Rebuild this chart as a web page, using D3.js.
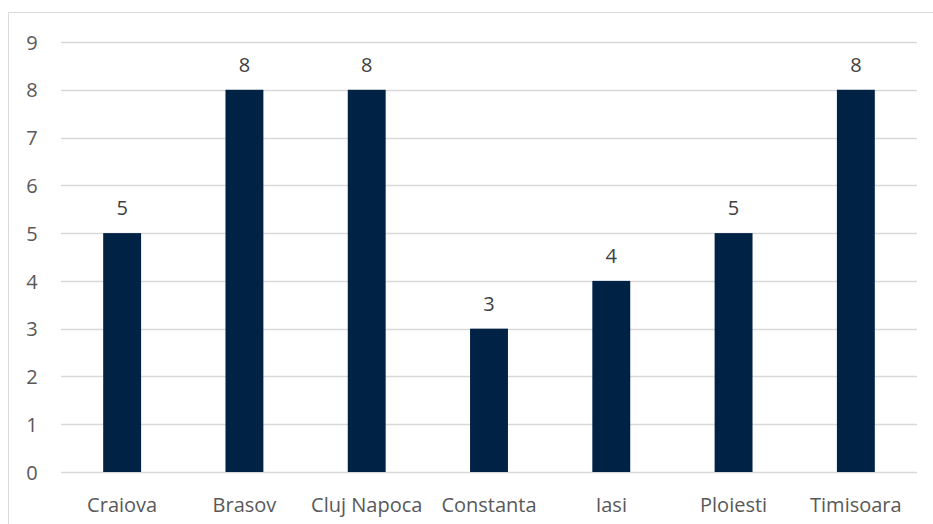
<!DOCTYPE html>
<html><head><meta charset="utf-8">
<script src="https://cdn.jsdelivr.net/npm/d3@7"></script>
<style>body{margin:0;background:#fff}svg{display:block}text{font-family:"Open Sans","Noto Sans",sans-serif}</style>
</head><body><svg id="c" width="933" height="524"></svg>
<script>
const categories = ["Craiova","Brasov","Cluj Napoca","Constanta","Iasi","Ploiesti","Timisoara"];
const values = [5,8,8,3,4,5,8];
const yTicks = [0,1,2,3,4,5,6,7,8,9];

const svg = d3.select("#c");
const m = {left:61, right:16, top:42, bottom:52};
const W = 933, H = 524;
const FS = "20px";
svg.append("rect").attr("x",8.5).attr("y",12.5).attr("width",W).attr("height",H)
  .attr("fill","#fff").attr("stroke","#d9d9d9");
const x = d3.scaleBand().domain(categories).range([m.left, W-m.right]).paddingInner(0.69).paddingOuter(0.345);
const y = d3.scaleLinear().domain([0,9]).range([H-m.bottom, m.top]);

const g = svg.append("g");
g.selectAll("line.grid").data(yTicks).join("line")
  .attr("x1",m.left).attr("x2",W-m.right)
  .attr("y1",d=>Math.round(y(d))+0.5).attr("y2",d=>Math.round(y(d))+0.5)
  .attr("stroke","#d9d9d9").attr("stroke-width",1.3);

const yAxis = svg.append("g").attr("transform",`translate(${m.left},0)`)
  .call(d3.axisLeft(y).tickValues(yTicks).tickSize(0).tickPadding(29));
yAxis.select(".domain").remove();
yAxis.selectAll("text").attr("fill","#595959").style("font-size",FS).attr("text-anchor","middle").attr("dy","0.36em");

g.selectAll("rect.bar").data(values).join("rect")
  .attr("x",(d,i)=>x(categories[i])).attr("width",x.bandwidth())
  .attr("y",d=>y(d)).attr("height",d=>y(0)-y(d)).attr("fill","#002245");

g.selectAll("text.val").data(values).join("text")
  .attr("x",(d,i)=>x(categories[i])+x.bandwidth()/2).attr("y",d=>y(d)-18)
  .attr("text-anchor","middle").attr("fill","#404040").style("font-size",FS).text(d=>d);

const xAxis = svg.append("g").attr("transform",`translate(0,${y(0)})`)
  .call(d3.axisBottom(x).tickSize(0));
xAxis.select(".domain").remove();
xAxis.selectAll("text").attr("fill","#595959").style("font-size",FS).attr("y",40).attr("dy",null);
</script></body></html>
